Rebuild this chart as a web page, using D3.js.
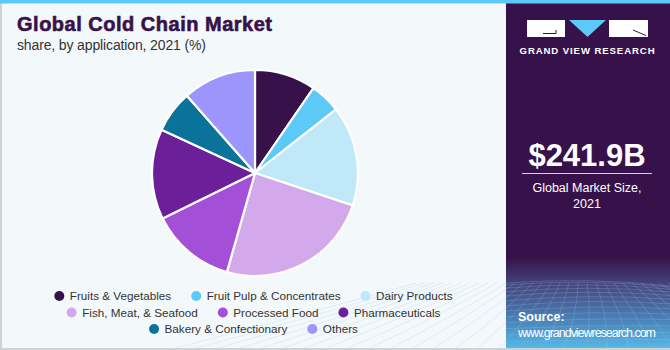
<!DOCTYPE html>
<html>
<head>
<meta charset="utf-8">
<script src="https://cdn.jsdelivr.net/npm/d3@7/dist/d3.min.js"></script>
<style>
  html, body { margin: 0; padding: 0; background: #fff; }
  svg { display: block; }
  text { font-family: "Liberation Sans", Arial, sans-serif; }
</style>
</head>
<body>
<svg id="chart" width="670" height="350"></svg>
<script>
// Application segments and their share of the 2021 market (%)
const categories = [
  "Fruits & Vegetables", "Fruit Pulp & Concentrates", "Dairy Products",
  "Fish, Meat, & Seafood", "Processed Food", "Pharmaceuticals",
  "Bakery & Confectionary", "Others"
];
const shares = [9.6, 4.8, 15.7, 24.3, 13.3, 14.2, 6.6, 11.5];
const colors = ["#37114a", "#5cc9f6", "#bfe9f9", "#d4a9ec", "#a34fd7", "#6b1f99", "#0a7399", "#9b95fc"];
const legendRows = [[0, 1, 2], [3, 4, 5], [6, 7]];

const svg = d3.select("#chart");
const W = 670, H = 350, panelX = 506;

// background and frame
svg.append("rect").attr("width", W).attr("height", H).attr("fill", "#f3f8fb");
svg.append("rect").attr("x", 0).attr("y", 0).attr("width", 2).attr("height", H).attr("fill", "#cfd3d6");
svg.append("rect").attr("x", 0).attr("y", H - 2).attr("width", W).attr("height", 2).attr("fill", "#cfd3d6");

// right info panel
const defs = svg.append("defs");
const grad = defs.append("linearGradient").attr("id", "panelGrad")
  .attr("x1", 0).attr("y1", 0).attr("x2", 0).attr("y2", 1);
grad.append("stop").attr("offset", "0%").attr("stop-color", "#37124a");
grad.append("stop").attr("offset", "74%").attr("stop-color", "#37124a");
grad.append("stop").attr("offset", "82%").attr("stop-color", "#45467f");
grad.append("stop").attr("offset", "92%").attr("stop-color", "#4a82b8");
grad.append("stop").attr("offset", "100%").attr("stop-color", "#55b8e6");
svg.append("rect").attr("x", panelX).attr("y", 0).attr("width", W - panelX).attr("height", H - 2)
  .attr("fill", "url(#panelGrad)");

// faint perspective grid at the foot of the panel
const grid = svg.append("g").attr("stroke", "#9fc4ea").attr("stroke-opacity", 0.35).attr("stroke-width", 0.7).attr("fill", "none");
const gTop = 283, gBot = 348;
for (let i = 0; i < 14; i++) {
  const t = i / 13;
  const y = gTop + (gBot - gTop) * Math.pow(t, 1.6);
  grid.append("path").attr("d", `M${panelX},${y + 4 * Math.sin(t * 3)} Q${588},${y - 6 * (1 - t)} ${W},${y + 3 * Math.cos(t * 2)}`);
}
for (let i = -10; i <= 24; i++) {
  const xTop = panelX + i * 9;
  const xBot = 588 + (xTop - 588) * 2.4;
  grid.append("path").attr("d", `M${xTop},${gTop} Q${(xTop + xBot) / 2 + 6},${(gTop + gBot) / 2} ${xBot},${gBot}`);
}

// top accent stripe
svg.append("rect").attr("x", 0).attr("y", 0).attr("width", W).attr("height", 3.5).attr("fill", "#5cc9f6");

// logo: two white blocks around a blue downward triangle
const logo = svg.append("g").attr("class", "logo");
logo.append("path").attr("d", "M527,20 H565 V37 H527 Z").style("fill", "#ffffff").style("stroke", "none");
logo.append("path").attr("d", "M543,33.5 H556 M556,30 V33.5").style("fill", "none").style("stroke", "#37124a").style("stroke-width", "1");
logo.append("path").attr("d", "M569,20 L606,20 L587.5,37 Z").style("fill", "#5cc9f6").style("stroke", "none");
logo.append("path").attr("d", "M609,20 H648 V37 H609 Z").style("fill", "#ffffff").style("stroke", "none");
logo.append("path").attr("d", "M633,30 L646,35.5").style("fill", "none").style("stroke", "#37124a").style("stroke-width", "1");
svg.append("text").attr("x", 587.5).attr("y", 54).attr("text-anchor", "middle")
  .attr("fill", "#fff").attr("font-size", 9.6).attr("font-weight", "bold").attr("letter-spacing", 0.9)
  .text("GRAND VIEW RESEARCH");

// market size
svg.append("text").attr("x", 587).attr("y", 166).attr("text-anchor", "middle")
  .attr("fill", "#fff").attr("font-size", 31).attr("font-weight", "bold")
  .text("$241.9B");
svg.append("line").attr("x1", 522).attr("x2", 652).attr("y1", 173.5).attr("y2", 173.5)
  .attr("stroke", "#d8cde2").attr("stroke-width", 1);
svg.append("text").attr("x", 587).attr("y", 192).attr("text-anchor", "middle")
  .attr("fill", "#fff").attr("font-size", 12.5).text("Global Market Size,");
svg.append("text").attr("x", 587).attr("y", 208).attr("text-anchor", "middle")
  .attr("fill", "#fff").attr("font-size", 12.5).text("2021");

// source
svg.append("text").attr("x", 518).attr("y", 321).attr("fill", "#fff")
  .attr("font-size", 12.5).attr("font-weight", "bold").text("Source:");
svg.append("text").attr("x", 518).attr("y", 337).attr("fill", "#fff")
  .attr("font-size", 12.5).attr("textLength", 138).text("www.grandviewresearch.com");

// titles
svg.append("text").attr("x", 17).attr("y", 31).attr("fill", "#37124a")
  .attr("font-size", 20).attr("font-weight", "900").attr("textLength", 255)
  .attr("stroke", "#37124a").attr("stroke-width", 0.6)
  .text("Global Cold Chain Market");
svg.append("text").attr("x", 17).attr("y", 50).attr("fill", "#333")
  .attr("font-size", 14).attr("textLength", 189)
  .text("share, by application, 2021 (%)");

// pie
const cx = 255, cy = 173, r = 103;
const pie = d3.pie().sort(null).value(d => d)(shares);
const arc = d3.arc().innerRadius(0).outerRadius(r);
svg.append("g").attr("transform", `translate(${cx},${cy})`)
  .selectAll("path").data(pie).join("path")
  .attr("d", arc)
  .attr("fill", (d, i) => colors[i])
  .attr("stroke", "#ffffff").attr("stroke-width", 2.2).attr("stroke-linejoin", "round");

// legend: rows centred under the pie
const fs = 11.7;
const legend = svg.append("g").attr("font-size", fs).attr("fill", "#333");
const rowY = [296, 312.5, 329];
const gap = 25, dotR = 5, dotGap = 10.5;
const measure = svg.append("text").attr("font-size", fs).attr("visibility", "hidden");
const textW = s => { measure.text(s); return measure.node().getComputedTextLength(); };
legendRows.forEach((row, ri) => {
  const widths = row.map(i => dotGap + textW(categories[i]));
  const total = d3.sum(widths) + gap * (row.length - 1);
  let x = cx + 1 - total / 2;
  row.forEach((i, k) => {
    legend.append("circle").attr("cx", x).attr("cy", rowY[ri]).attr("r", dotR).attr("fill", colors[i]);
    legend.append("text").attr("x", x + dotGap).attr("y", rowY[ri] + 4.2).text(categories[i]);
    x += widths[k] + gap;
  });
});
measure.remove();
</script>
</body>
</html>
